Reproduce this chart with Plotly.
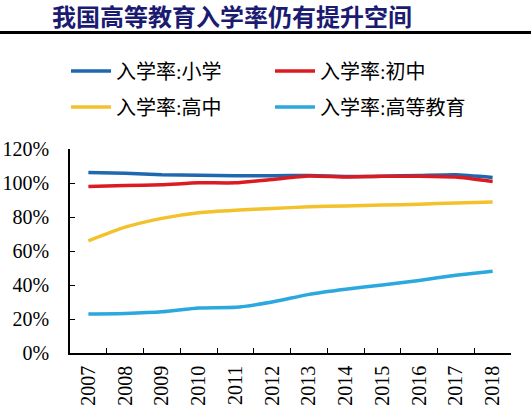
import plotly.graph_objects as go

years = ["2007", "2008", "2009", "2010", "2011", "2012", "2013", "2014", "2015", "2016", "2017", "2018"]
primary = [106.2, 105.7, 104.8, 104.6, 104.2, 104.3, 104.4, 103.8, 104.0, 104.4, 104.8, 103.2]
junior = [98.0, 98.5, 99.0, 100.1, 100.1, 102.1, 104.1, 103.5, 104.0, 104.0, 103.5, 100.9]
senior = [66.0, 74.0, 79.2, 82.5, 84.0, 85.0, 86.0, 86.5, 87.0, 87.5, 88.3, 88.8]
higher = [23.0, 23.3, 24.2, 26.5, 26.9, 30.0, 34.5, 37.5, 40.0, 42.7, 45.7, 48.1]
names = ["入学率:小学", "入学率:初中", "入学率:高中", "入学率:高等教育"]
colors = ["#1F68B0", "#DC1A22", "#F3C12B", "#2BA8DD"]
yticks = [0, 20, 40, 60, 80, 100, 120]
title = "我国高等教育入学率仍有提升空间"

W, H = 531, 420
L, R, T, B = 70, 20, 149, 67
pw, ph = W - L - R, H - T - B

serif = "Liberation Serif, Times New Roman, Noto Sans CJK SC"

# legend anchor pixels (left x, center y) for each entry
leg_pos = [(66, 71), (270, 71), (66, 107), (270, 107)]
leg_ids = ["legend", "legend2", "legend3", "legend4"]

fig = go.Figure()
series = [primary, junior, senior, higher]
for nm, vals, c, lg in zip(names, series, colors, leg_ids):
    fig.add_trace(go.Scatter(
        x=years, y=[v / 100 for v in vals], name=nm, mode="lines",
        line=dict(color=c, width=3.5, shape="spline", smoothing=0.5),
        legend=lg,
    ))

legend_common = dict(
    orientation="h", xanchor="left", yanchor="middle",
    font=dict(family=serif, size=20, color="#000000"),
    bgcolor="rgba(0,0,0,0)", itemwidth=40,
)
legends = {}
for lg, (px, py) in zip(leg_ids, leg_pos):
    legends[lg] = dict(x=(px - L) / pw, y=(H - B - py) / ph, **legend_common)

fig.update_layout(
    width=W, height=H,
    margin=dict(l=L, r=R, t=T, b=B, autoexpand=False),
    paper_bgcolor="white", plot_bgcolor="white",
    showlegend=True,
    **legends,
    title=dict(
        text=title, x=52 / W, xanchor="left", xref="container",
        y=1 - 18 / H, yanchor="middle", yref="container",
        font=dict(family="Noto Sans CJK SC", size=24, color="#1B1B72", weight="bold"),
    ),
    xaxis=dict(
        type="category", range=[-0.5, 11.5], showgrid=False, automargin=False,
        showline=True, linecolor="#000000", linewidth=1.5,
        ticks="inside", ticklen=5, tickcolor="#000000", tickwidth=1.2,
        tickson="boundaries", tickangle=-90,
        tickfont=dict(family=serif, size=20, color="#000000"),
        ticklabelstandoff=3,
    ),
    yaxis=dict(
        range=[0, 1.2], tickvals=[v / 100 for v in yticks],
        ticktext=[f"{v}%" for v in yticks], automargin=False,
        showgrid=False, zeroline=False,
        showline=True, linecolor="#000000", linewidth=1.5,
        ticks="inside", ticklen=5, tickcolor="#000000", tickwidth=1.2,
        tickfont=dict(family=serif, size=20, color="#000000"),
        ticklabelstandoff=15,
    ),
    shapes=[dict(
        type="line", xref="paper", yref="paper",
        x0=-L / pw, x1=1 + R / pw,
        y0=(H - B - 32.5) / ph, y1=(H - B - 32.5) / ph,
        line=dict(color="#000000", width=3),
    )],
)

fig.write_html(
    "out.html",
    config={"displayModeBar": False},
    post_script="document.body.style.margin='0';document.body.style.overflow='hidden';",
)
